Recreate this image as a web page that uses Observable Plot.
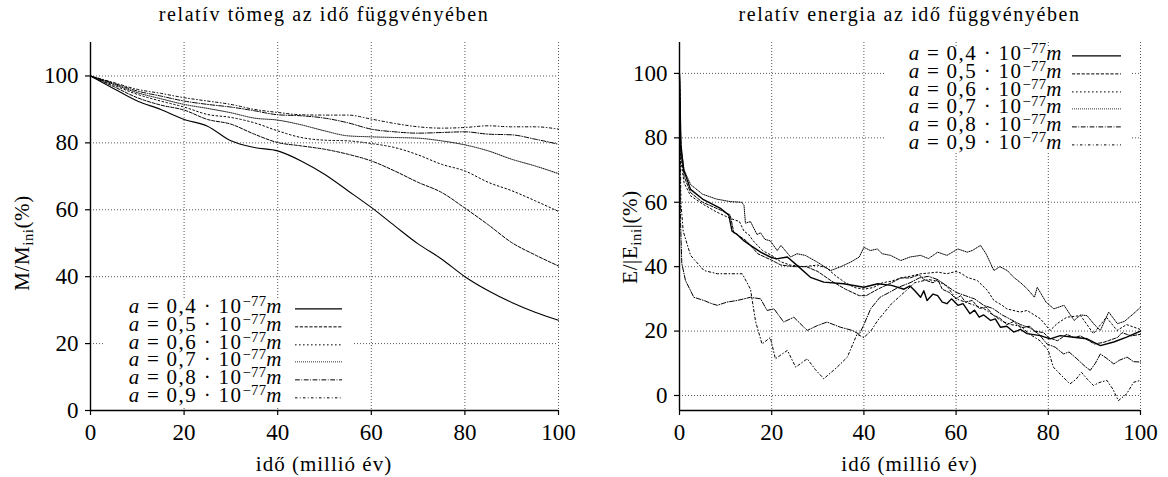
<!DOCTYPE html>
<html><head><meta charset="utf-8">
<script src="https://cdn.jsdelivr.net/npm/d3@7"></script>
<script src="https://cdn.jsdelivr.net/npm/@observablehq/plot@0.6"></script>
<style>
body{margin:0;background:#fff;font-family:"Liberation Serif",serif;color:#000;}
#root{position:relative;width:1168px;height:477px;overflow:hidden;background:#fff;}
#root svg text{font-family:"Liberation Serif",serif !important;font-size:23px !important;font-variant:normal !important;}
.abs{position:absolute;}
.title{font-size:20px;line-height:24px;text-align:center;letter-spacing:1.6px;white-space:nowrap;}
.xlab{font-size:21px;line-height:24px;text-align:center;letter-spacing:1px;white-space:nowrap;}
.ylab{font-size:21px;line-height:24px;white-space:nowrap;transform:translate(-50%,-50%) rotate(-90deg);letter-spacing:0.6px;}
.ylab sub{font-size:0.7em;vertical-align:-0.25em;line-height:0;}
.legend{background:#fff;}
.row{position:relative;height:17.7px;}
.row .lab{position:absolute;right:0;top:-2px;font-size:21px;line-height:17.7px;white-space:nowrap;letter-spacing:1.5px;}
.row sup{font-size:0.7em;vertical-align:0.5em;line-height:0;letter-spacing:0.3px;}
.op{margin:0 0.3em;}
.row svg{position:absolute;top:0;}
</style>
</head><body>
<div id="root"></div>
<script>
// ---------- data ----------
const legendA = ["0,4", "0,5", "0,6", "0,7", "0,8", "0,9"];
const xTicks = [0, 20, 40, 60, 80, 100];
const yTicks = [0, 20, 40, 60, 80, 100];

// relative mass (%) sampled every 5 million years
const massTime = [0,5,10,15,20,25,30,35,40,45,50,55,60,65,70,75,80,85,90,95,100];
const mass04 = [100,96.2,92.5,90,87,85,80.6,78.6,77.6,74.6,70.6,65.7,60.7,55.2,49.8,45.3,40,35.8,32.3,29.4,27];
const mass05 = [100,96.8,93.5,91.3,89.8,87,85.6,82.6,80.1,79.1,78.1,76.6,74.6,71.6,68.2,65.2,60.5,55.5,50.2,46.5,43.2];
const mass06 = [100,97.2,94.5,92.5,90.7,88.5,87.6,86,83.6,81.6,80.8,80.6,79.8,78.6,76.4,73.6,71.6,68.2,65.7,62.7,59.5];
const mass07 = [100,97.5,95,93.2,91.5,90.3,89,87.4,86.8,85.4,83.6,82.1,81.8,81.6,81.4,80.6,79.4,77.6,75.1,73.1,70.8];
const mass08 = [100,97.8,95.5,94,92.5,91.5,90.7,89.6,88.4,88.1,87.4,86,84.1,83.3,82.9,83.1,83.3,82.6,82.4,81.1,79.6];
const mass09 = [100,98,96,94.8,93.5,92.5,91.5,90,89.1,88.4,88.3,88.3,87.1,85.8,84.8,84.4,84.6,85.1,84.8,84.8,84.1];

// relative energy (%) as [time, value] pairs
const energy04 = [[0,100],[0.3,78],[0.9,70],[2.4,64],[5,61],[9,58],[10.7,56],[11.4,51],[12.5,50],[14,48],[15.4,46.6],[17.6,44.5],[19.7,43],[21,42.4],[23.4,43],[25.5,40.4],[28.4,36.7],[31.3,35.2],[35.6,34.7],[40,33.6],[43,34.7],[46,34.2],[48.7,33],[50,34],[51,32.6],[52.3,30.5],[53,32.5],[53.7,29.5],[55,31.5],[56,31],[57,29],[58,28.5],[59,30],[60.4,28],[61.5,28.5],[63,25.4],[64,26.5],[65,24.3],[66,25],[67.5,23.3],[68.5,23.8],[69.6,21.2],[71,21.5],[72.5,19.7],[74,20.5],[75.4,19.2],[78.3,18.6],[80.4,17.6],[82.6,18.6],[85.5,18.1],[88.4,17.6],[91.3,15.5],[94.2,16.6],[97,18.1],[100,20]];
const energy05 = [[0,100],[0.3,75],[1,68],[2.4,63],[5,60],[9,57.5],[11,56],[11.8,50.5],[12.5,50],[14.5,48],[17,44],[20,42],[22,40.5],[25,40],[27.5,40],[30,38.5],[33,35.5],[36,33],[39,31],[40.5,31],[43,33],[46,35],[48,36.5],[50,36.5],[52,37.5],[53,36],[55,35],[56,36],[57,33],[58.5,32],[60,30],[61,31],[62,29],[63.5,29.5],[65,27],[66.5,27.5],[68,25],[69.5,24],[71,22],[72.5,23],[74,21],[76,21.5],[77,20],[79,19.5],[80,18],[82,17],[84,19],[85.5,18],[87,18.5],[90,16],[92,16.5],[93,17],[95,18],[96,19.5],[98,18.5],[100,19]];
const energy06 = [[0,100],[0.3,73],[1,66],[2.4,62],[5,59.5],[8,57],[11,55],[13,54],[14,51],[15,50],[16,48],[18,45],[20,43.5],[22,41.5],[24,40.5],[27,40],[30,40.5],[32,39.5],[34,37],[36,35],[38,33.5],[40,33],[42,33.5],[44,35],[46,35.5],[48,36.5],[50,37],[52.3,37.8],[54,38],[56,38.3],[58,37.8],[60,38.5],[61,38],[62.4,36.7],[64.6,35.7],[66.8,32.6],[68.2,29.5],[70,28],[71,26.9],[73.9,25.9],[75.4,26.4],[78.3,23.8],[80.4,20.2],[81.9,22.3],[84,24.3],[87,24.8],[89.8,19.2],[92.6,24.3],[94.9,20.2],[97,22],[100,20.5]];
const energy07 = [[0,100],[0.3,77],[1,70],[2.4,65.5],[5,62.5],[8,61],[11,60.2],[13.5,60],[14,59],[14.3,53.5],[15.4,54],[16.8,50],[17.6,50.5],[18.5,48.5],[19.7,48],[21.2,45],[22,46.6],[24.1,43],[25.5,44],[27.3,43.5],[29.9,41.4],[32.8,38.8],[35,40],[37.1,41.4],[39,43],[40,46],[41.4,45],[42.9,45.5],[44,44],[45.8,43.5],[48,41.9],[50,43],[52.3,43.5],[54,42.5],[56,44.5],[58,43.5],[60.4,45.5],[62.4,44.5],[63.5,45],[65.3,46.6],[66.5,44],[68.2,38.8],[69.5,40],[71.1,38.8],[72.5,36.7],[74,35],[75.5,33],[77,30.5],[77.6,33.6],[79.5,29],[81.2,26.9],[83.4,28],[85.6,23.3],[87,25],[88.4,24.8],[90,22],[91.3,20.2],[93.1,25.9],[95,22.3],[96.5,23],[98.5,25.4],[100,27.4]];
const energy08 = [[0,100],[0.2,55],[0.5,41],[1.3,35.7],[3.1,30.5],[5.3,29.5],[7,28.5],[8.2,28],[10.3,29],[12.5,29.5],[14,30],[15.4,30.5],[17.6,30],[19,26.4],[20.5,26.9],[22.6,22.8],[24.8,24.3],[27.7,20.2],[29.9,21.7],[32,22.8],[34.9,21.2],[37.5,20.2],[39,19],[40,22],[41.5,27],[43.5,30.5],[45.5,32],[47.5,33.6],[50,35],[52,36.5],[54,37],[56,36],[58,34],[60,32],[62,31],[64,30],[66,28],[68,27],[70,25],[72,23.5],[74,22],[76,21],[78,19],[79.7,16],[81.5,15],[83.3,12.9],[84.5,13.5],[86.2,11.4],[88,9],[89.1,7.8],[90.2,10],[91.3,12.9],[92.7,11.5],[94.2,9.8],[95.5,11],[97.1,11.9],[98.5,10.5],[100,10.4]];
const energy09 = [[0,100],[0.3,60],[0.8,51],[2.4,43.5],[5.3,38.8],[8.2,37.8],[13.6,37.8],[15.4,33],[16.5,23],[17.9,16],[19.7,18],[20.8,11.4],[23.4,14],[25.2,8.8],[27.7,11.4],[29.5,8],[31.3,5.2],[34.2,8.8],[36.4,11.9],[38.5,19],[40,18],[41.5,20],[43,23.3],[46,28.5],[49.2,32.6],[51,35],[54,36],[56,35.5],[58,34],[60,30],[62,29],[64,28],[66,27],[68,25],[70,23],[72,22],[74,21.5],[76,19],[78.2,17],[80,14],[81.1,8.8],[83,6],[84.7,3.6],[86,5],[87.2,7.2],[88.5,5],[89.8,3.1],[91,4],[92.7,4.7],[94,2],[95.2,-1.6],[97,0.5],[98.5,4.1],[100,4.7]];

// ---------- styles ----------
const dashes = [null, "3.2,1.6", "1.6,2.4", "0.8,1.2", "4.8,1.6,0.8,1.6", "2.4,2.4,0.8,2.4"];
const massSeries = [mass04, mass05, mass06, mass07, mass08, mass09];
const energySeries = [energy04, energy05, energy06, energy07, energy08, energy09];
const FONT = "Liberation Serif";
const root = document.getElementById("root");

function gridOpts(){return {stroke:"#444", strokeOpacity:0.9, strokeWidth:1, strokeDasharray:"1,2"};}

function makePanel(left, cfg){
  const panel = document.createElement("div");
  panel.className = "abs";
  panel.style.left = left + "px"; panel.style.top = "0px";
  panel.style.width = "584px"; panel.style.height = "477px";
  root.appendChild(panel);
  const W = 584, H = 447;
  const lines = cfg.series.map((s, i) => Plot.line(s, {
    x: cfg.x, y: cfg.y, stroke: "#000",
    strokeWidth: i === 0 ? cfg.solidWidth : 1,
    strokeDasharray: dashes[i] || undefined,
    curve: cfg.curve
  }));
  const svg = Plot.plot({
    width: W, height: H,
    marginLeft: cfg.ml, marginRight: cfg.mr, marginTop: 12, marginBottom: 67,
    style: {fontFamily: FONT, fontSize: "23px", color: "#000", background: "#fff", overflow: "visible"},
    x: {domain: [0, 100]},
    y: {domain: cfg.yDomain},
    marks: [
      Plot.gridX(xTicks, gridOpts()),
      Plot.gridY(yTicks, gridOpts()),
      ...lines,
      Plot.ruleX([0], {stroke:"#000", strokeWidth:1.4}),
      Plot.ruleY([cfg.yDomain[0]], {stroke:"#000", strokeWidth:1.4}),
      Plot.axisX(xTicks, {tickSize: 5, tickPadding: 8, label: null, strokeWidth: 1.2, fontSize: 23, fontFamily: FONT}),
      Plot.axisY(yTicks, {tickSize: 5, tickPadding: 7, label: null, strokeWidth: 1.2, fontSize: 23, fontFamily: FONT})
    ]
  });
  svg.style.position = "absolute"; svg.style.left = "0px"; svg.style.top = "30px";
  panel.appendChild(svg);

  const pw = W - cfg.ml - cfg.mr;
  const t = document.createElement("div");
  t.className = "abs title"; t.textContent = cfg.title;
  t.style.left = cfg.ml + "px"; t.style.width = pw + "px"; t.style.top = "2px";
  panel.appendChild(t);

  const xl = document.createElement("div");
  xl.className = "abs xlab"; xl.textContent = "idő (millió év)";
  xl.style.left = cfg.ml + "px"; xl.style.width = pw + "px"; xl.style.top = "452px";
  panel.appendChild(xl);

  const yl = document.createElement("div");
  yl.className = "abs ylab"; yl.innerHTML = cfg.ylabel;
  yl.style.left = cfg.ylx + "px"; yl.style.top = cfg.yly + "px";
  panel.appendChild(yl);

  // legend
  const lg = document.createElement("div");
  lg.className = "abs legend";
  const L = cfg.legend;
  lg.style.left = L.left + "px"; lg.style.top = L.top + "px";
  lg.style.width = L.width + "px"; lg.style.height = L.height + "px";
  lg.style.paddingTop = L.pad + "px"; lg.style.boxSizing = "border-box";
  legendA.forEach((a, i) => {
    const row = document.createElement("div");
    row.className = "row";
    row.style.height = L.rowH + "px";
    const lab = document.createElement("span");
    lab.className = "lab";
    lab.style.right = (L.width - L.textRight) + "px";
    lab.innerHTML = `<i>a</i><span class="op">=</span>${a}<span class="op">·</span>10<sup>−77</sup><i>m</i>`;
    row.appendChild(lab);
    const s = d3.create("svg").attr("width", L.sampleW).attr("height", L.rowH)
      .style("left", L.sampleX + "px");
    s.append("line").attr("x1", 0).attr("x2", L.sampleW)
      .attr("y1", L.rowH / 2).attr("y2", L.rowH / 2)
      .attr("stroke", "#000").attr("stroke-width", i === 0 ? 1.2 : 1)
      .attr("stroke-dasharray", dashes[i]);
    row.appendChild(s.node());
    lg.appendChild(row);
  });
  panel.appendChild(lg);
}

const massData = massSeries.map(vals => massTime.map((t, j) => ({t, v: vals[j]})));
const energyData = energySeries.map(pairs => pairs.map(([t, v]) => ({t, v})));

makePanel(0, {
  series: massData, x: "t", y: "v", curve: "monotone-x", solidWidth: 1.1,
  ml: 90, mr: 26, yDomain: [0, 110],
  title: "relatív tömeg az idő függvényében",
  ylabel: "M/M<sub>ini</sub>(%)", ylx: 22, yly: 243,
  legend: {left: 103, top: 300, width: 249, height: 107, pad: 0.2, rowH: 17.7, textRight: 180, sampleX: 192, sampleW: 47}
});

makePanel(584, {
  series: energyData, x: "t", y: "v", curve: "linear", solidWidth: 1.4,
  ml: 95, mr: 28, yDomain: [-4.66, 109.6],
  title: "relatív energia az idő függvényében",
  ylabel: "E/|E<sub>ini</sub>|(%)", ylx: 46, yly: 237,
  legend: {left: 302, top: 47, width: 246, height: 104, pad: 0, rowH: 17.8, textRight: 177, sampleX: 186, sampleW: 49}
});
</script>
</body></html>
